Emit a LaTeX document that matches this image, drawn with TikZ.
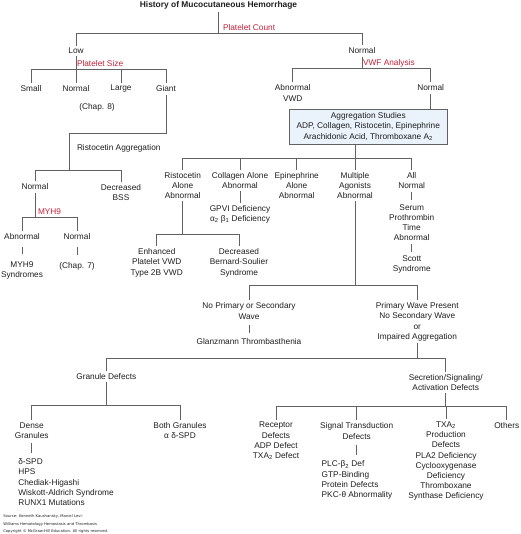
\documentclass[tikz,border=0pt]{standalone}
\usepackage{fontspec}
\setmainfont{Liberation Sans}
\newfontfamily\srcfont{DejaVu Sans}
\definecolor{txt}{HTML}{1E1E1E}
\definecolor{redc}{RGB}{196,32,56}
\definecolor{linec}{HTML}{626262}
\definecolor{boxfill}{HTML}{EAF2FB}
\begin{document}
\begin{tikzpicture}[x=1pt,y=-1pt,
  t/.style={font=\fontsize{8.3}{10.2}\selectfont, text=txt, align=center, inner sep=0pt, outer sep=2.5pt},
  rl/.style={t, text=redc, anchor=west, outer sep=0pt},
  lst/.style={t, align=left, anchor=west, outer sep=0pt},
  ln/.style={draw=linec, line width=0.8pt}]
\useasboundingbox (0,0) rectangle (520,534);

% ---- nodes ----
\node[t, font=\fontsize{8.4}{10}\selectfont\bfseries, outer sep=3.5pt] (title) at (218.5,5) {History of Mucocutaneous Hemorrhage};
\node[rl] (pc) at (223,28) {Platelet Count};
\node[t] (low) at (76,51) {Low};
\node[t] (nrm1) at (362,51) {Normal};
\node[rl] (ps) at (77,64) {Platelet Size};
\node[t] (small) at (31,89) {Small};
\node[t] (pnorm) at (76,89) {Normal};
\node[t] (large) at (121,89) {Large};
\node[t] (giant) at (166,89) {Giant};
\node[t] (chap8) at (97,107) {(Chap. 8)};
\node[lst] (ristagg) at (77,148) {Ristocetin Aggregation};
\node[t] (rnorm) at (35,187) {Normal};
\node[t] (decbss) at (121,192.5) {Decreased\\BSS};
\node[rl] (myhlbl) at (38,212) {MYH9};
\node[t] (abn) at (22,237) {Abnormal};
\node[t] (nrm7) at (77,237) {Normal};
\node[t] (myh9s) at (22,270.5) {MYH9\\Syndromes};
\node[t] (chap7) at (77,266) {(Chap. 7)};

\node[rl] (vwf) at (363,63) {VWF Analysis};
\node[t] (vwd) at (292.7,93) {Abnormal\\VWD};
\node[t] (vnorm) at (430.7,88) {Normal};
\node[t, draw=linec, fill=boxfill, line width=0.8pt, outer sep=0pt, minimum width=158pt, minimum height=35pt] (agg) at (368.3,126.5)
  {Aggregation Studies\\ADP, Collagen, Ristocetin, Epinephrine\\Arachidonic Acid, Thromboxane A\textsubscript{2}};

\node[t] (ristal) at (182.7,185.3) {Ristocetin\\Alone\\Abnormal};
\node[t] (coll) at (240,180.2) {Collagen Alone\\Abnormal};
\node[t] (epi) at (296.7,185.3) {Epinephrine\\Alone\\Abnormal};
\node[t] (mult) at (355,185.3) {Multiple\\Agonists\\Abnormal};
\node[t] (alln) at (411.7,180.2) {All\\Normal};
\node[t] (gpvi) at (240,214.3) {GPVI Deficiency\\α\textsubscript{2} β\textsubscript{1} Deficiency};
\node[t] (serum) at (411.7,222.6) {Serum\\Prothrombin\\Time\\Abnormal};
\node[t] (scott) at (411.7,264.5) {Scott\\Syndrome};
\node[t] (enh) at (156.7,262.7) {Enhanced\\Platelet VWD\\Type 2B VWD};
\node[t] (dec) at (239,262.7) {Decreased\\Bernard-Soulier\\Syndrome};

\node[t] (noprim) at (249,311) {No Primary or Secondary\\Wave};
\node[t] (glanz) at (249,342) {Glanzmann Thrombasthenia};
\node[t] (primw) at (417.3,321.8) {Primary Wave Present\\No Secondary Wave\\or\\Impaired Aggregation};

\node[t] (gran) at (106.3,376.7) {Granule Defects};
\node[t] (secr) at (445.7,382.3) {Secretion/Signaling/\\Activation Defects};
\node[t] (dense) at (31.7,430.4) {Dense\\Granules};
\node[t] (both) at (180,430.4) {Both Granules\\α δ-SPD};
\node[lst] (denselist) at (18.3,482.2) {δ-SPD\\HPS\\Chediak-Higashi\\Wiskott-Aldrich Syndrome\\RUNX1 Mutations};

\node[t] (recep) at (276,441) {Receptor\\Defects\\ADP Defect\\TXA\textsubscript{2} Defect};
\node[t] (sig) at (356.7,431) {Signal Transduction\\Defects};
\node[lst] (siglist) at (321.7,480) {PLC-β\textsubscript{2} Def\\GTP-Binding\\Protein Defects\\PKC-θ Abnormality};
\node[t] (txa) at (446,461.3) {TXA\textsubscript{2}\\Production\\Defects\\PLA2 Deficiency\\Cyclooxygenase\\Deficiency\\Thromboxane\\Synthase Deficiency};
\node[t] (others) at (506.7,426) {Others};

\node[lst, font=\srcfont\fontsize{3.75}{7.6}\selectfont] (src) at (3.3,524)
  {Source: Kenneth Kaushansky, Marcel Levi:\\Williams Hematology Hemostasis and Thrombosis\\Copyright © McGraw-Hill Education. All rights reserved.};

% ---- connectors ----
\coordinate (y1) at (219,33);
\draw[ln] (title.south) -- (title.south |- y1);
\draw[ln] (low.north) -- (low.north |- y1) -- (nrm1.north |- y1) -- (nrm1.north);

\coordinate (y2) at (0,69);
\draw[ln] (low.south) -- (pnorm.north);
\draw[ln] (small.north) -- (small.north |- y2) -- (giant.north |- y2) -- (giant.north);
\draw[ln] (large.north) -- (large.north |- y2);

\coordinate (gj) at (69,133);
\coordinate (j4) at (69,170);
\draw[ln] (giant.south) |- (gj) -- (j4);
\draw[ln] (rnorm.north) -- (rnorm.north |- j4) -- (decbss.north |- j4) -- (decbss.north);

\coordinate (y5) at (0,217);
\draw[ln] (rnorm.south) -- (rnorm.south |- y5);
\draw[ln] (abn.north) -- (abn.north |- y5) -- (nrm7.north |- y5) -- (nrm7.north);
\draw[ln, shorten <=4.5pt, shorten >=5pt] (abn.south) -- (myh9s.north);
\draw[ln, shorten <=4.5pt, shorten >=5pt] (nrm7.south) -- (chap7.north);

\coordinate (y3) at (0,68);
\draw[ln] (nrm1.south) -- (nrm1.south |- y3);
\draw[ln] (vwd.north) -- (vwd.north |- y3) -- (vnorm.north |- y3) -- (vnorm.north);
\draw[ln] (vnorm.south) -- (vnorm.south |- agg.north);

\coordinate (y6) at (0,158);
\draw[ln] (mult.north |- agg.south) -- (mult.north);
\draw[ln] (ristal.north) -- (ristal.north |- y6) -- (alln.north |- y6) -- (alln.north);
\draw[ln] (coll.north) -- (coll.north |- y6);
\draw[ln] (epi.north) -- (epi.north |- y6);
\draw[ln] (coll.south) -- (gpvi.north);
\draw[ln, shorten <=1.5pt, shorten >=1.5pt] (alln.south) -- (serum.north);
\draw[ln, shorten <=1pt, shorten >=1pt] (serum.south) -- (scott.north);

\coordinate (y7) at (0,234);
\draw[ln] (ristal.south) -- (ristal.south |- y7);
\draw[ln] (enh.north) -- (enh.north |- y7) -- (dec.north |- y7) -- (dec.north);

\coordinate (y8) at (0,285);
\draw[ln] (mult.south) -- (mult.south |- y8);
\draw[ln] (noprim.north) -- (noprim.north |- y8) -- (primw.north |- y8) -- (primw.north);
\draw[ln, shorten <=3pt, shorten >=3pt] (noprim.south) -- (glanz.north);

\coordinate (y9) at (0,358.3);
\draw[ln] (primw.south) -- (primw.south |- y9);
\draw[ln] (gran.north) -- (gran.north |- y9) -- (secr.north |- y9) -- (secr.north);

\coordinate (y10) at (0,405);
\draw[ln] (gran.south) -- (gran.south |- y10);
\draw[ln] (dense.north) -- (dense.north |- y10) -- (both.north |- y10) -- (both.north);
\draw[ln, shorten <=2pt, shorten >=6pt] (dense.south) -- (dense.south |- denselist.north);

\coordinate (y11) at (0,406);
\draw[ln] (secr.south) -- (secr.south |- y11);
\draw[ln] (recep.north) -- (recep.north |- y11) -- (others.north |- y11) -- (others.north);
\draw[ln] (sig.north) -- (sig.north |- y11);
\draw[ln] (txa.north) -- (txa.north |- y11);
\draw[ln, shorten <=3pt, shorten >=6pt] (sig.south) -- (sig.south |- siglist.north);
\end{tikzpicture}
\end{document}
